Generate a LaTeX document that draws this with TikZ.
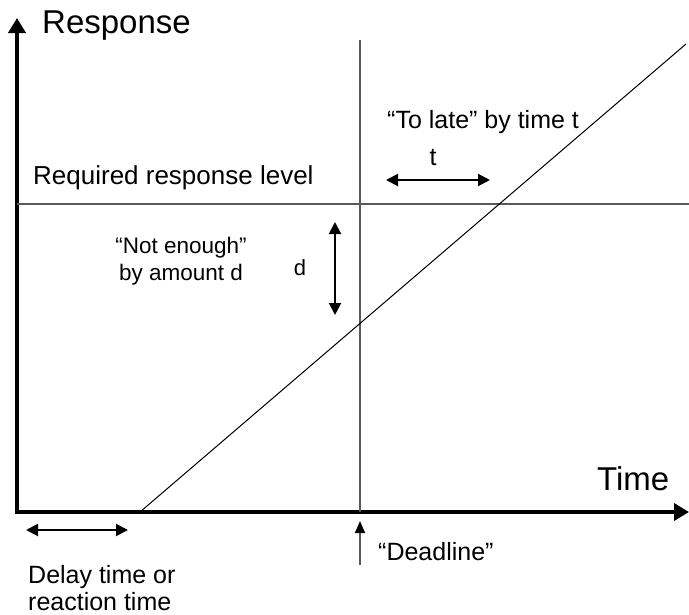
\documentclass[tikz,border=0pt]{standalone}
\usepackage{fontspec}
\setmainfont{Liberation Sans}
\usetikzlibrary{arrows.meta}
\begin{document}
\begin{tikzpicture}[x=1pt,y=-1pt,
  lbl/.style={inner sep=0pt, font=\fontsize{25}{29}\selectfont},
  big/.style={inner sep=0pt, font=\fontsize{33}{37}\selectfont},
  axis/.style={line width=4.5pt, {Triangle[length=15pt,width=17pt]}-{Triangle[length=15pt,width=17pt]}},
  dim/.style={line width=2pt, {Triangle[length=12pt,width=12pt]}-{Triangle[length=12pt,width=12pt]}},
  guide/.style={line width=1.5pt, draw=black!65},
]
\useasboundingbox (0,0) rectangle (689,614);
% axes
\coordinate (ytop) at (17,18);
\coordinate (O) at (17,512);
\coordinate (xend) at (689,512);
\draw[axis] (ytop) -- (O) -- (xend);
% guide lines
\coordinate (r0) at (17,204);
\coordinate (r1) at (689,204);
\draw[guide] (r0) -- (r1);
\coordinate (dtop) at (360,40);
\coordinate (dbot) at (360,512);
\draw[guide] (dtop) -- (dbot);
% response line
\coordinate (s0) at (140,512);
\coordinate (s1) at (686,44);
\draw[line width=1pt] (s0) -- (s1);
% deadline arrow
\coordinate (da0) at (360,565);
\coordinate (da1) at (360,521);
\draw[guide, -{Triangle[length=12pt,width=10pt,color=black]}] (da0) -- (da1);
% dimension arrows
\coordinate (d0) at (335,222);
\coordinate (d1) at (335,315);
\draw[dim] (d0) -- (d1);
\coordinate (t0) at (386,180);
\coordinate (t1) at (490,180);
\draw[dim] (t0) -- (t1);
\coordinate (w0) at (26,530);
\coordinate (w1) at (128,530);
\draw[dim] (w0) -- (w1);
% labels
\node[big, anchor=west] (resp) at (42,26) {Response};
\node[big, anchor=west] (time) at (597,479) {Time};
\node[lbl, anchor=west, font=\fontsize{26}{30}\selectfont] (req) at (33,178) {Required response level};
\node[lbl, anchor=west] (late) at (387,122) {“To late” by time t};
\node[lbl] (tl) at (433,158) {t};
\node[lbl, font=\fontsize{22}{26}\selectfont] (dl) at (300,268) {d};
\node[lbl, align=center, font=\fontsize{22.5}{27}\selectfont] (ne) at (181,261) {“Not enough”\\by amount d};
\node[lbl, anchor=west] (dead) at (378,552) {“Deadline”};
\node[lbl, anchor=base west] (del1) at (28,583) {Delay time or};
\node[lbl, anchor=base west] (del2) at (28,610) {reaction time};
\end{tikzpicture}
\end{document}
